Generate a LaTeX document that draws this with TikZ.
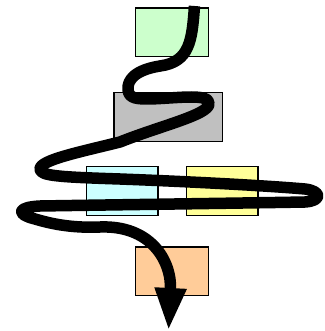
\documentclass[tikz,border=0pt]{standalone}
\usetikzlibrary{arrows.meta}
\definecolor{boxgreen}{HTML}{CCFFCC}
\definecolor{boxgray}{HTML}{C0C0C0}
\definecolor{boxcyan}{HTML}{CCFFFF}
\definecolor{boxyellow}{HTML}{FFFF99}
\definecolor{boxorange}{HTML}{FFCC99}
\tikzset{
  box/.style={draw=black, line width=1.2pt, rectangle, inner sep=0pt, minimum width=72.5pt, minimum height=48.8pt},
  snake/.style={line width=11.5pt, line cap=butt, line join=round,
    -{Triangle[length=43pt 0 0, width=29pt 0 0]}}
}
\begin{document}
\begin{tikzpicture}[x=1pt, y=-1pt]
\useasboundingbox (0,0) rectangle (324,331);
\node[box, fill=boxgreen] (green) at (172,32.5) {};
\node[box, fill=boxgray, minimum width=108.8pt] (gray) at (168.3,117) {};
\node[box, fill=boxcyan, minimum width=71.5pt] (cyan) at (122.3,190.8) {};
\node[box, fill=boxyellow, minimum width=71.5pt] (yellow) at (222.2,190.8) {};
\node[box, fill=boxorange] (orange) at (172,271.3) {};
\coordinate (start) at (194.5,6);
\coordinate (end) at (168.5,331);
\draw[snake] (start)
  .. controls (192,40) and (190,62) .. (160,66)
  .. controls (135,70) and (127,80) .. (128,90)
  .. controls (129,99) and (138,99) .. (150,99)
  .. controls (180,98) and (210,93) .. (209,104)
  .. controls (208,115) and (160,126) .. (120,142)
  .. controls (80,152) and (40,160) .. (40,169)
  .. controls (40,176) and (60,177) .. (120,179)
  .. controls (200,182) and (270,186) .. (305,189)
  .. controls (322,191) and (322,201) .. (305,202)
  .. controls (250,203) and (100,205) .. (40,206)
  .. controls (18,207) and (15,214) .. (35,219)
  .. controls (55,225) and (75,228) .. (100,227)
  .. controls (150,225) and (172,260) .. (end);
\end{tikzpicture}
\end{document}
